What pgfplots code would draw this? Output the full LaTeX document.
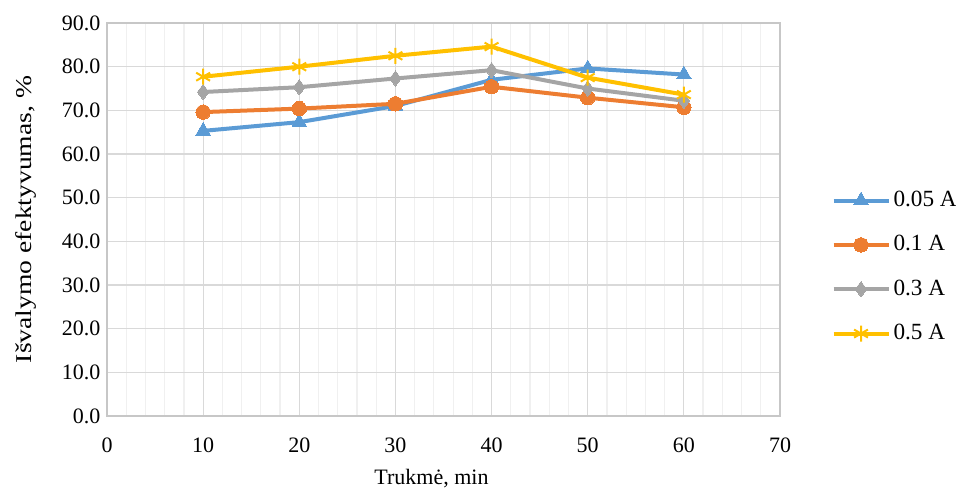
\documentclass[border=0pt]{standalone}
\usepackage{pgfplots}
\pgfplotsset{compat=1.18}
\usepackage{fontspec}
\setmainfont{Liberation Serif}
\definecolor{cblue}{HTML}{5B9BD5}
\definecolor{corange}{HTML}{ED7D31}
\definecolor{cgray}{HTML}{A5A5A5}
\definecolor{cyellow}{HTML}{FFC000}
\begin{document}
\fontsize{11}{13}\selectfont
\begin{tikzpicture}
\useasboundingbox (0,0) rectangle (478pt,247pt);
\begin{axis}[
  at={(53.5pt,39pt)}, anchor=south west,
  width=336.5pt, height=196.5pt, scale only axis,
  xmin=0, xmax=70, ymin=0, ymax=90,
  xtick={0,10,...,70}, ytick={0,10,...,90},
  xticklabels={0,10,20,30,40,50,60,70},
  minor x tick num=4,
  xmajorgrids, ymajorgrids, xminorgrids,
  major grid style={color=black!15, line width=0.6pt},
  minor grid style={color=black!6, line width=0.6pt},
  axis line style={color=black!22, line width=0.6pt},
  major tick length=0pt, minor tick length=0pt,
  /pgf/number format/assume math mode=true,
  yticklabel style={/pgf/number format/fixed, /pgf/number format/fixed zerofill, /pgf/number format/precision=1, xshift=0.5pt},
  xticklabel style={yshift=-7pt},
  tick label style={font=\fontsize{11}{13}\selectfont\rmfamily},
  xlabel={Trukmė, min},
  ylabel={Išvalymo efektyvumas, \%},
  xlabel style={font=\fontsize{11}{13}\selectfont, yshift=-1pt, xshift=-6pt},
  ylabel style={font=\fontsize{11.3}{13}\selectfont, xscale=1.22, yshift=5pt},
  legend style={at={(1.067,0.379)}, anchor=west, draw=none, fill=none,
    font=\fontsize{11.6}{13.5}\selectfont, row sep=8.8pt,
    nodes={inner xsep=1.5pt}},
  legend cell align=left,
  legend image code/.code={
    \draw[mark repeat=2,mark phase=2] plot coordinates {(0pt,0pt)(13.75pt,0pt)(27.5pt,0pt)};
  },
  every axis plot/.append style={line width=2pt},
]
\addplot[color=cblue, mark=triangle*, mark size=4.2pt, mark options={solid, line width=0pt}]
  coordinates {(10,65.3) (20,67.3) (30,71.0) (40,77.0) (50,79.6) (60,78.2)};
\addlegendentry{0.05 A}
\addplot[color=corange, mark=*, mark size=3.6pt, mark options={solid, line width=0pt}]
  coordinates {(10,69.6) (20,70.4) (30,71.5) (40,75.4) (50,72.9) (60,70.7)};
\addlegendentry{0.1 A}
\addplot[color=cgray, mark=diamond*, mark size=3.8pt, mark options={solid, line width=0pt}]
  coordinates {(10,74.2) (20,75.3) (30,77.3) (40,79.2) (50,75.0) (60,72.2)};
\addlegendentry{0.3 A}
\addplot[color=cyellow, mark=asterisk, mark size=4pt, mark options={solid, line width=1pt}]
  coordinates {(10,77.7) (20,80.0) (30,82.5) (40,84.6) (50,77.5) (60,73.6)};
\addlegendentry{0.5 A}
\end{axis}
\end{tikzpicture}
\end{document}
